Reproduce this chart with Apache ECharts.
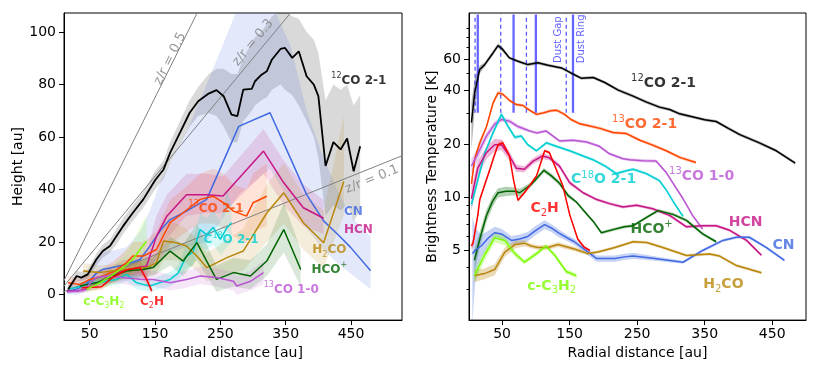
<!DOCTYPE html>
<html><head><meta charset="utf-8">
<script src="https://cdn.jsdelivr.net/npm/echarts@6/dist/echarts.min.js"></script>
<style>html,body{margin:0;padding:0;background:#fff}#c{width:830px;height:365px}</style>
</head><body><div id="c"></div>
<script>
// ---------------- LEFT PANEL DATA (height z vs radius) ----------------
const L_CO12_x = [17,30,37,47,60,70,81,91,101,116,132,150,163,173,188,203,216,232,244,255,267,276,285,298,303,313,321,329,342,349,360,370,382,393,400,411,423,434,444,454,464];
const L_CO12_y = [1.9,7,6.4,7.6,13.3,16.5,18.4,22.2,26,31.1,36.2,43.5,47.6,53.9,61.5,69.2,73.6,76.5,77.8,75.5,68.5,67.9,78,78.3,81.2,83.7,85,89.5,93.5,93.9,90.1,92.6,83.1,79.9,75.5,48.9,58,55.2,59.4,46.9,56.4];
const L_CO12_lo = [0.5,5,5,6,11,14,16,19,23,28,33,40,44,50,57,64,68,69,68,64,58,58,66,70,72,74,75,78,80,78,76,72,66,60,52,30,34,32,34,28,32];
const L_CO12_hi = [3.5,9,8.5,9.5,15.5,19,21,25,29,34,39,47,51,58,66,74,79,84,86,86,84,84,90,96,98,100,103,106,108,108,106,105,100,97,92,74,80,78,80,72,76];

const L_CN_x = [15,30,45,60,70,90,106,127,142,160,173,198,229,278,326,357,382,408,429,449,480];
const L_CN_y = [1,2,4,8,9.5,10.5,11.4,13.3,18.4,25,28.5,31.7,36.2,64,69.2,52,38,28,23,18,9];
const L_CN_lo = [0,0,1,4,5,6,6,7,11,14,16,18,20,38,48,35,25,17,12,8,2];
const L_CN_hi = [3,5,8,14,16,17,18,24,32,44,50,62,80,110,112,95,70,52,40,30,22];

const L_HCN_x = [15,30,45,60,80,100,120,137,152,168,198,229,254,316,347,377,408];
const L_HCN_y = [1.3,1.3,2,4,7,9,10,10.8,22,29.8,38,38,37.5,54.6,42.5,33,29];
const L_HCN_lo = [0.5,0.5,1,2,4,5,6,6,14,21,30,31,31,46,34,26,23];
const L_HCN_hi = [2,2,3,6,10,13,14,16,30,38,46,46,45,63,51,42,36];

const L_CO13_21_x = [17,35,50,70,88,106,116,132,152,173,193,219,239,255,270,290,300,321];
const L_CO13_21_y = [4.4,3.8,5.7,7,8.9,12,14.6,14.6,17.1,27.3,31.1,36.2,37.4,34.9,31.7,29.8,34.9,37.4];
const L_CO13_21_lo = [2,2,3,4,5,7,9,9,11,19,23,27,27,25,22,20,24,26];
const L_CO13_21_hi = [7,6,8,10,13,17,20,20,24,36,40,46,48,46,42,40,46,50];

const L_C18O_x = [17,30,55,75,91,106,122,132,142,157,173,185,198,208,219,229,239,250,260,267];
const L_C18O_y = [2,2.6,4.4,5,5.7,7.6,4.4,3.8,3.2,4.4,5.7,8,14.6,16,24.7,22.8,25.5,21,25.4,27.3];
const L_C18O_lo = [1,1.5,3,3,3.5,5,2,1.5,1,2,3,5,10,11,18,17,19,15,18,20];
const L_C18O_hi = [3,4,6,7,8,10,7,6,5.5,7,8.5,11,19,20,31,29,32,28,40,34];

const L_H2CO_x = [40,65,106,137,152,163,183,198,214,229,244,260,285,321,347,377,408,439];
const L_H2CO_y = [8.9,8.3,9.5,10.2,12,20.3,19.7,18.4,14.6,10.2,12,14,16.5,31,38.7,27.3,19.7,43];
const L_H2CO_lo = [6,6,7,7,8,13,13,12,9,5,6,8,9,20,27,17,10,30];
const L_H2CO_hi = [12,11,12,13,16,28,27,25,21,16,18,21,25,42,50,38,32,68];

const L_HCOp_x = [35,60,86,106,132,147,173,193,214,229,244,270,296,321,347,373];
const L_HCOp_y = [3.2,4.4,7,8.9,9.5,10.2,16.5,12.7,19.7,12.7,5.7,8.3,7,12.7,24.7,9.5];
const L_HCOp_lo = [2,3,5,6,6.5,7,11,7,13,7,1,3,2,7,16,3];
const L_HCOp_hi = [4.5,6,9,12,13,14,22,19,27,19,11,14,13,19,35,17];

const L_CO13_10_x = [17,40,60,75,100,130,147,173,198,219,244,270,275,296,316];
const L_CO13_10_y = [1,1.5,6.4,7,6.4,5.7,5.7,4.4,5.7,7,6.4,5,3.2,5,8.3];
const L_CO13_10_lo = [0.3,0.5,4,4.5,4,3,3,1.5,2.5,4,3,1.5,0,1.5,4];
const L_CO13_10_hi = [1.8,3,9,10,9.5,9,9,7.5,9,10.5,10,8.5,7,9,13];

const L_C2H_x = [38,55,68,85,106,127,137,145];
const L_C2H_y = [2.5,2.7,2.9,6.5,9.3,10.2,5.7,1.3];
const L_C2H_lo = [1.5,1.5,1.8,4.5,7,8,3.5,0];
const L_C2H_hi = [3.5,3.7,4,8.5,12,13,8,3];

const L_cC3H2_x = [45,65,86,101,116,127,137];
const L_cC3H2_y = [1.9,4.4,7.6,10.2,13.3,17.1,20.3];
const L_cC3H2_lo = [0.5,2,4,6,8,10,12];
const L_cC3H2_hi = [3.5,7,11,15,20,26,30];

const ZR_RATIOS = [0.5, 0.3, 0.1];

// ---------------- RIGHT PANEL DATA (brightness temperature) ----------------
const R_CO12_x = [4.6,9.4,16.8,24,36.5,44,50,61,73.5,88,103,118,138,152,167,185,202,222,244,263,283,298,313,333,350,367,385,402,431,456,484];
const R_CO12_y = [26.4,38.9,52.7,56,65.4,72,69,61.3,58.7,56.2,57.5,55.7,53.8,50.4,47.1,47.5,44.5,40.3,37.3,34.6,32.3,31.3,29.6,28.4,27.4,26.8,24.5,22.6,20.3,18.3,15.6];
const R_CO12_e = [0.3,0.2,0.05,0.03,0.03,0.03,0.03,0.02,0.02,0.02,0.02,0.02,0.02,0.02,0.02,0.02,0.02,0.02,0.02,0.02,0.02,0.02,0.02,0.02,0.02,0.02,0.02,0.02,0.02,0.02,0.02];

const R_CO13_21_x = [4.6,9.4,17,27,36.5,44,51,62,71,81,91,101,112,122,131,142,152,165,175,195,214,234,254,273,293,313,337];
const R_CO13_21_y = [11.9,16.4,20.3,25.1,34,38.9,38.2,35,33.4,33,31,29.4,30,30.8,31,29.5,27.5,26,25.5,24.5,23.2,22.9,21,19.7,18.3,16.8,15.7];
const R_CO13_21_e = [0.08,0.06,0.04,0.03,0.03,0.03,0.02,0.02,0.02,0.02,0.02,0.02,0.02,0.02,0.02,0.02,0.02,0.02,0.02,0.02,0.02,0.02,0.02,0.02,0.02,0.02,0.02];

const R_CO13_10_x = [4.6,14,27,39,49,61,73.5,91,101,115,135,155,175,194,209,229,239,258,278,293,303,318,332,347];
const R_CO13_10_y = [15,17.6,22.2,25.9,27.5,26.9,25.1,23.7,23.1,23.7,20.8,21,20.5,19.4,17.6,16.5,16.3,16.1,16,13.8,12,9.8,7.9,6.6];
const R_CO13_10_e = [0.1,0.08,0.05,0.04,0.03,0.03,0.03,0.02,0.02,0.02,0.02,0.02,0.02,0.02,0.02,0.02,0.02,0.02,0.02,0.02,0.02,0.02,0.02,0.02];

const R_C18O_x = [4.6,14.3,24,36.5,49,59,69,78.5,88,101,115.5,130,150,170,184.5,204,219,234,244,263.5,283,293,303,313,318];
const R_C18O_y = [9.1,12.6,17.6,23.1,29.4,25.1,21.8,22.2,19.8,18.3,20.3,19.4,18.3,17.1,16.3,14.9,13.6,14.1,14.4,13.6,12.4,11,9.5,8.3,7.8];
const R_C18O_e = [0.06,0.05,0.04,0.04,0.04,0.03,0.03,0.02,0.02,0.02,0.02,0.02,0.02,0.02,0.02,0.02,0.02,0.02,0.02,0.02,0.02,0.02,0.02,0.02,0.02];

const R_HCN_x = [4.6,14,27,39,49,61,71,83,96,110,120,135,150,170,190,209,229,249,273,298,323,347,367,387,412,434];
const R_HCN_y = [9.8,14.6,17.9,19.8,19.8,17.1,14.6,14.4,16,17.1,16.7,15,12.1,10.6,9.7,9.2,8.8,9.0,8.6,7.9,6.8,6.9,6.9,6.5,5.7,4.7];
const R_HCN_e = [0.15,0.1,0.08,0.08,0.07,0.06,0.05,0.04,0.04,0.04,0.03,0.03,0.03,0.02,0.02,0.02,0.02,0.02,0.02,0.02,0.02,0.02,0.02,0.02,0.02,0.02];

const R_HCOp_x = [9,18,27,36,44,56,69,76,93,103,112,123,135,148,160,172,185,197,217,231,244,264,281,303,323,347,367];
const R_HCOp_y = [4.4,6,7.9,9.5,10.6,10.8,10.8,10.6,11.8,13,14.2,13.2,12,10.2,9.4,8.3,7.3,6.3,6.6,6.8,6.9,7.7,8.4,8.0,7.4,6.2,5.6];
const R_HCOp_e = [0.15,0.1,0.08,0.07,0.06,0.06,0.05,0.05,0.03,0.03,0.03,0.03,0.03,0.03,0.02,0.02,0.02,0.02,0.02,0.02,0.02,0.02,0.02,0.02,0.02,0.02,0.02];

const R_CN_x = [6,10,19,30,39,49,64,76,88,100,113,123,133,146,157,168,177,190,217,231,244,273,318,347,377,397,416,441,468];
const R_CN_y = [4.8,5.0,5.3,5.9,6.3,6.2,5.7,5.8,6.0,6.5,7.0,6.7,6.3,5.9,5.6,5.2,4.9,4.5,4.5,4.6,4.66,4.52,4.29,5.0,5.7,5.94,5.94,5.2,4.4];
const R_CN_e = [0.6,0.35,0.15,0.1,0.08,0.07,0.06,0.06,0.06,0.06,0.06,0.05,0.05,0.04,0.04,0.04,0.04,0.04,0.04,0.04,0.04,0.03,0.02,0.02,0.02,0.02,0.02,0.02,0.02];

const R_H2CO_x = [9,24,39,54,69,83,93,103,118,133,157,177,192,217,231,244,264,288,323,357,372,397,434];
const R_H2CO_y = [3.6,3.7,3.9,4.9,5.4,5.5,5.3,5.2,5.2,5.4,5.1,4.8,4.9,5.2,5.4,5.6,5.55,5.2,4.68,4.78,4.65,4.11,3.74];
const R_H2CO_e = [0.08,0.07,0.07,0.06,0.05,0.04,0.03,0.03,0.03,0.03,0.03,0.02,0.02,0.02,0.02,0.02,0.02,0.02,0.02,0.02,0.02,0.02,0.02];

const R_C2H_x = [4.6,7,14,17,25,32,38,44,51,61,67,73.5,83,92,101,107,113,120,130,140,150,162,172,180];
const R_C2H_y = [5.3,5.5,7.9,9.7,12,14.4,17,19.8,20.3,17.1,12.5,9.6,10.6,11.8,13.2,15.5,18.3,17.9,14.4,11.6,8,5.8,5.2,5];
const R_C2H_e = [0.05,0.05,0.03,0.03,0.03,0.03,0.03,0.03,0.03,0.02,0.02,0.02,0.02,0.02,0.02,0.02,0.02,0.02,0.02,0.02,0.02,0.02,0.02,0.02];

const R_cC3H2_x = [9,24,39,54,69,83,101,115,128,145,160];
const R_cC3H2_y = [3.6,4.7,5.9,5.7,4.8,4.3,4.8,5.3,4.7,3.8,3.6];
const R_cC3H2_e = [0.08,0.07,0.06,0.06,0.04,0.03,0.03,0.03,0.03,0.03,0.03];

const DUST_GAPS = [10, 48, 86, 145];
const DUST_RINGS = [14, 67, 100, 155];

// tick labels
const L_XTICKS = [50,150,250,350,450];
const L_YTICKS = [0,20,40,60,80,100];
const R_XTICKS = [50,150,250,350,450];
const R_YTICKS = [5,10,20,40,60];
const R_YMINOR = [3,4,6,7,8,9,30,50,70,80,90];

// ---------------- styles / layout ----------------
const FONT = 'DejaVu Sans';
const C = {co12:'#000000', co13_21:'#FF4500', co13_10:'#BA55D3', c18o:'#00CED1', hcn:'#C71585',
  hcop:'#006400', cn:'#4169E1', h2co:'#B8860B', c2h:'#FF0000', cc3h2:'#7CFC00'};
const VLINE_SPAN = [30, 108];

function rgba(hex, a){const n=parseInt(hex.slice(1),16);return 'rgba('+(n>>16)+','+((n>>8)&255)+','+(n&255)+','+a+')';}
function zip(a,b){return a.map((v,i)=>[v,b[i]]);}

function band(xs, lo, hi, color, alpha, ax){
  const data = xs.map((x,i)=>[x, lo[i], hi[i]]);
  return {type:'custom', xAxisIndex:ax, yAxisIndex:ax, clip:true, z:1, silent:true,
    data:data, encode:{x:0, y:[1,2]},
    renderItem:function(params, api){
      if(params.dataIndex!==0) return null;
      const top = data.map(d=>api.coord([d[0], d[2]]));
      const bot = data.map(d=>api.coord([d[0], d[1]])).reverse();
      return {type:'polygon', shape:{points: top.concat(bot)}, style:{fill: rgba(color, alpha)}};
    }};
}
function line(xs, ys, color, w, ax, z){
  return {type:'line', xAxisIndex:ax, yAxisIndex:ax, data:zip(xs,ys), showSymbol:false, symbol:'none',
    lineStyle:{color:color, width:w}, itemStyle:{color:color}, z:z||3, silent:true, clip:true};
}
function relLo(y,e){return y.map((v,i)=>v*(1-e[i]));}
function relHi(y,e){return y.map((v,i)=>v*(1+e[i]));}

const series = [];
// left panel
const LEFT = [
  [L_CO12_x,L_CO12_y,L_CO12_lo,L_CO12_hi,C.co12,1.8],
  [L_CN_x,L_CN_y,L_CN_lo,L_CN_hi,C.cn,1.5],
  [L_HCN_x,L_HCN_y,L_HCN_lo,L_HCN_hi,C.hcn,1.5],
  [L_CO13_21_x,L_CO13_21_y,L_CO13_21_lo,L_CO13_21_hi,C.co13_21,1.5],
  [L_C18O_x,L_C18O_y,L_C18O_lo,L_C18O_hi,C.c18o,1.5],
  [L_H2CO_x,L_H2CO_y,L_H2CO_lo,L_H2CO_hi,C.h2co,1.5],
  [L_HCOp_x,L_HCOp_y,L_HCOp_lo,L_HCOp_hi,C.hcop,1.5],
  [L_CO13_10_x,L_CO13_10_y,L_CO13_10_lo,L_CO13_10_hi,C.co13_10,1.5],
  [L_C2H_x,L_C2H_y,L_C2H_lo,L_C2H_hi,C.c2h,1.5],
  [L_cC3H2_x,L_cC3H2_y,L_cC3H2_lo,L_cC3H2_hi,C.cc3h2,1.5]
];
LEFT.forEach(s=>series.push(band(s[0],s[2],s[3],s[4],0.15,0)));
LEFT.forEach((s,i)=>series.push(line(s[0],s[1],s[4],s[5],0,i===0?4:3)));
// z/r lines
ZR_RATIOS.forEach(k=>series.push({type:'line', xAxisIndex:0, yAxisIndex:0, data:[[0,0],[600,600*k]],
  showSymbol:false, symbol:'none', lineStyle:{color:'#808080', width:1}, z:2, silent:true}));

// right panel
const RIGHT = [
  [R_CO12_x,R_CO12_y,R_CO12_e,C.co12],
  [R_CO13_21_x,R_CO13_21_y,R_CO13_21_e,C.co13_21],
  [R_CO13_10_x,R_CO13_10_y,R_CO13_10_e,C.co13_10],
  [R_C18O_x,R_C18O_y,R_C18O_e,C.c18o],
  [R_HCN_x,R_HCN_y,R_HCN_e,C.hcn],
  [R_HCOp_x,R_HCOp_y,R_HCOp_e,C.hcop],
  [R_CN_x,R_CN_y,R_CN_e,C.cn],
  [R_H2CO_x,R_H2CO_y,R_H2CO_e,C.h2co],
  [R_C2H_x,R_C2H_y,R_C2H_e,C.c2h],
  [R_cC3H2_x,R_cC3H2_y,R_cC3H2_e,C.cc3h2]
];
RIGHT.forEach(s=>series.push(band(s[0],relLo(s[1],s[2]),relHi(s[1],s[2]),s[3],0.3,1)));
RIGHT.forEach(s=>series.push(line(s[0],s[1],s[3],1.5,1,3)));
DUST_GAPS.forEach(x=>series.push({type:'line', xAxisIndex:1, yAxisIndex:1, data:[[x,VLINE_SPAN[0]],[x,VLINE_SPAN[1]]],
  showSymbol:false, symbol:'none', lineStyle:{color:'rgba(0,0,255,0.65)', width:1.3, type:[4,3]}, z:2, silent:true}));
DUST_RINGS.forEach(x=>series.push({type:'line', xAxisIndex:1, yAxisIndex:1, data:[[x,VLINE_SPAN[0]],[x,VLINE_SPAN[1]]],
  showSymbol:false, symbol:'none', lineStyle:{color:'rgba(0,0,255,0.6)', width:2.3}, z:2, silent:true}));

// annotations
function richFor(size){
  const lh = size+5;
  return {
    b:{fontFamily:FONT, fontWeight:'bold', fontSize:size, lineHeight:lh},
    s:{fontFamily:FONT, fontWeight:'normal', fontSize:Math.round(size*0.7), lineHeight:Math.round(size*0.8), verticalAlign:'top'},
    u:{fontFamily:FONT, fontWeight:'normal', fontSize:Math.round(size*0.7), lineHeight:Math.round(size*0.8), verticalAlign:'bottom'}
  };
}
const L_NOTES = [
  {t:'{s|12}{b|CO 2-1}', c:C.co12, at:[462,81.5]},
  {t:'{b|CN}', c:C.cn, at:[453.6,31.6]},
  {t:'{b|HCN}', c:C.hcn, at:[461.3,24.7]},
  {t:'{b|H}{u|2}{b|CO}', c:C.h2co, at:[416.8,16.9]},
  {t:'{b|HCO}{s|+}', c:C.hcop, at:[416.8,9.5]},
  {t:'{s|13}{b|CO 1-0}', c:C.co13_10, at:[358.5,1.9]},
  {t:'{s|13}{b|CO 2-1}', c:C.co13_21, at:[243.4,32.7]},
  {t:'{b|C}{s|18}{b|O 2-1}', c:C.c18o, at:[266.4,20.6]},
  {t:'{b|c-C}{u|3}{b|H}{u|2}', c:C.cc3h2, at:[71.6,-2.8]},
  {t:'{b|C}{u|2}{b|H}', c:C.c2h, at:[145.3,-2.8]}
];
const R_NOTES = [
  {t:'{s|12}{b|CO 2-1}', c:C.co12, at:[289.1,44.0]},
  {t:'{s|13}{b|CO 2-1}', c:C.co13_21, at:[261,25.8]},
  {t:'{s|13}{b|CO 1-0}', c:C.co13_10, at:[345.4,13.2]},
  {t:'{b|C}{s|18}{b|O 2-1}', c:C.c18o, at:[200.3,12.6]},
  {t:'{b|C}{u|2}{b|H}', c:C.c2h, at:[112.9,8.6]},
  {t:'{b|HCO}{s|+}', c:C.hcop, at:[271.4,6.61]},
  {t:'{b|HCN}', c:C.hcn, at:[410.5,7.24]},
  {t:'{b|CN}', c:C.cn, at:[466.8,5.37]},
  {t:'{b|H}{u|2}{b|CO}', c:C.h2co, at:[377.7,3.2]},
  {t:'{b|c-C}{u|3}{b|H}{u|2}', c:C.cc3h2, at:[123.4,3.15]}
];
function noteSeries(notes, ax, size){
  return {type:'scatter', xAxisIndex:ax, yAxisIndex:ax, symbolSize:1, itemStyle:{color:'rgba(0,0,0,0)'}, z:6, silent:true,
    data: notes.map(n=>({value:n.at, label:{show:true, position:'inside', formatter:n.t, color:n.c, rich:richFor(size)}})),
    label:{show:true, position:'inside', fontFamily:FONT}};
}
series.push(noteSeries(L_NOTES,0,12));
series.push(noteSeries(R_NOTES,1,14));
// z/r labels and dust labels
const ZR_NOTES = [
  {t:'z/r = 0.5', at:[173,89.8], r:63.6},
  {t:'z/r = 0.3', at:[300,95.9], r:50.4},
  {t:'z/r = 0.1', at:[482,43.8], r:21.9}
];
series.push({type:'scatter', xAxisIndex:0, yAxisIndex:0, symbolSize:1, itemStyle:{color:'rgba(0,0,0,0)'}, z:6, silent:true,
  data: ZR_NOTES.map(n=>({value:n.at, label:{show:true, position:'inside', formatter:n.t, rotate:n.r, color:'#808080', fontSize:13, fontFamily:FONT}}))});
const DUST_NOTES = [
  {t:'Dust Gap', at:[133.7,77.8]},
  {t:'Dust Ring', at:[167.1,78.6]}
];
series.push({type:'scatter', xAxisIndex:1, yAxisIndex:1, symbolSize:1, itemStyle:{color:'rgba(0,0,0,0)'}, z:6, silent:true,
  data: DUST_NOTES.map(n=>({value:n.at, label:{show:true, position:'inside', formatter:n.t, rotate:90, color:'rgba(0,0,255,0.8)', fontSize:10, fontFamily:FONT}}))});

const axLine = {show:true, onZero:false, lineStyle:{color:'#000', width:1}};
const lblStyle = {color:'#000', fontSize:14, fontFamily:FONT};
const nameStyle = {color:'#000', fontSize:14, fontFamily:FONT};

const option = {
  animation:false,
  backgroundColor:'#fff',
  grid:[
    {left:64, top:13, width:338, height:308, show:true, borderColor:'#000', borderWidth:1, backgroundColor:'transparent'},
    {left:469, top:13, width:337, height:308, show:true, borderColor:'#000', borderWidth:1, backgroundColor:'transparent'}
  ],
  xAxis:[
    {gridIndex:0, type:'value', min:10.6, max:528, axisLine:axLine, splitLine:{show:false},
     axisTick:{show:true, customValues:L_XTICKS, length:5, lineStyle:{color:'#000'}},
     axisLabel:Object.assign({customValues:L_XTICKS, margin:7}, lblStyle),
     name:'Radial distance [au]', nameLocation:'middle', nameGap:24, nameTextStyle:nameStyle},
    {gridIndex:1, type:'value', min:1, max:500, axisLine:axLine, splitLine:{show:false},
     axisTick:{show:true, customValues:R_XTICKS, length:5, lineStyle:{color:'#000'}},
     axisLabel:Object.assign({customValues:R_XTICKS, margin:7}, lblStyle),
     name:'Radial distance [au]', nameLocation:'middle', nameGap:24, nameTextStyle:nameStyle}
  ],
  yAxis:[
    {gridIndex:0, type:'value', min:-9.8, max:107.2, axisLine:axLine, splitLine:{show:false},
     axisTick:{show:true, customValues:L_YTICKS, length:5, lineStyle:{color:'#000'}},
     axisLabel:Object.assign({customValues:L_YTICKS, margin:8}, lblStyle),
     name:'Height [au]', nameLocation:'middle', nameGap:37, nameTextStyle:nameStyle},
    {gridIndex:1, type:'log', logBase:10, min:2.02, max:110, position:'left', axisLine:axLine, splitLine:{show:false},
     axisTick:{show:true, customValues:R_YTICKS, length:5, lineStyle:{color:'#000'}},
     axisLabel:Object.assign({customValues:R_YTICKS, margin:8, formatter:v=>String(Math.round(v))}, lblStyle),
     name:'Brightness Temperature [K]', nameLocation:'middle', nameGap:28, nameTextStyle:nameStyle},
    {gridIndex:1, type:'log', logBase:10, min:2.02, max:110, position:'left', offset:0, axisLine:{show:false}, splitLine:{show:false},
     axisTick:{show:true, customValues:R_YMINOR, length:2.5, lineStyle:{color:'#000'}},
     axisLabel:{show:false}}
  ],
  series: series
};
const chart = echarts.init(document.getElementById('c'), null, {renderer:'canvas'});
chart.setOption(option);
</script></body></html>
